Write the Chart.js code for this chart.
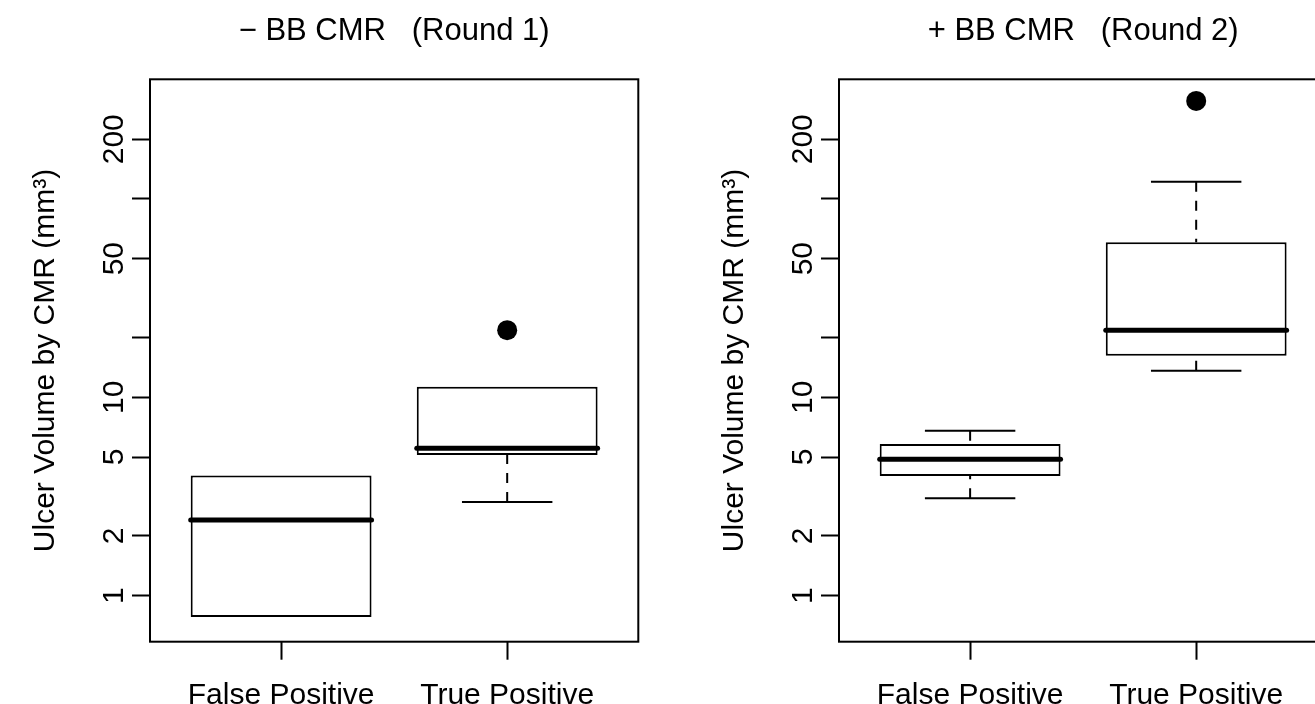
<!DOCTYPE html>
<html>
<head>
<meta charset="utf-8">
<script src="https://cdn.jsdelivr.net/npm/chart.js@4.4.1/dist/chart.umd.min.js"></script>
<style>
  html, body { margin: 0; padding: 0; background: #fff; overflow: hidden; width: 1315px; height: 704px; }
  .panel { position: absolute; top: 0; width: 657px; height: 704px; }
  #panelLeft { left: 0; }
  #panelRight { left: 689px; }
</style>
</head>
<body>
<div class="panel" id="panelLeft"><canvas id="round1" width="657" height="704"></canvas></div>
<div class="panel" id="panelRight"><canvas id="round2" width="657" height="704"></canvas></div>
<script>
const categories = ['False Positive', 'True Positive'];
const yTicks = [1, 2, 5, 10, 20, 50, 100, 200];
const yTickLabels = [1, 2, 5, 10, 50, 200];

// Round 1 (- BB CMR), five-number summaries per category
const round1Low = [0.78, 2.97];
const round1Q1 = [0.78, 5.12];
const round1Median = [2.41, 5.53];
const round1Q3 = [4.04, 11.3];
const round1High = [4.04, 11.3];
const round1OutlierGroup = [2];
const round1OutlierValue = [21.8];

// Round 2 (+ BB CMR)
const round2Low = [3.10, 13.6];
const round2Q1 = [4.01, 16.2];
const round2Median = [4.87, 21.8];
const round2Q3 = [5.82, 60.4];
const round2High = [6.79, 122];
const round2OutlierGroup = [2];
const round2OutlierValue = [312];

const FONT = { family: "'Liberation Sans', Arial, Helvetica, sans-serif", size: 30, weight: 'normal' };
const TITLE_FONT = { ...FONT, size: 31 };
const BOX_HALF = 0.4;   // R boxwex 0.8
const CAP_HALF = 0.2;   // R staplewex 0.5

// whiskers, caps and medians (R bxp style)
const whiskerPlugin = {
  id: 'whiskers',
  afterDatasetsDraw(chart) {
    const { ctx, scales: { x, y } } = chart;
    chart.data.datasets.forEach(ds => {
      if (!ds.median) return;
      ds.median.forEach((m, i) => {
        const cx = x.getPixelForValue(i + 1);
        const boxHalf = x.getPixelForValue(i + 1 + BOX_HALF) - cx;
        const capHalf = x.getPixelForValue(i + 1 + CAP_HALF) - cx;
        const yLow = y.getPixelForValue(ds.whiskerLow[i]);
        const yHigh = y.getPixelForValue(ds.whiskerHigh[i]);
        const yQ1 = y.getPixelForValue(ds.q1[i]);
        const yQ3 = y.getPixelForValue(ds.q3[i]);
        const yMed = y.getPixelForValue(m);

        ctx.save();
        ctx.strokeStyle = '#000';
        ctx.lineWidth = 2;
        ctx.setLineDash([10, 9]);
        ctx.beginPath();
        ctx.moveTo(cx, yLow); ctx.lineTo(cx, yQ1);
        ctx.moveTo(cx, yHigh); ctx.lineTo(cx, yQ3);
        ctx.stroke();
        ctx.setLineDash([]);
        ctx.beginPath();
        // a cap sitting on the hinge is hidden by the box edge
        if (ds.whiskerLow[i] < ds.q1[i]) { ctx.moveTo(cx - capHalf, yLow); ctx.lineTo(cx + capHalf, yLow); }
        if (ds.whiskerHigh[i] > ds.q3[i]) { ctx.moveTo(cx - capHalf, yHigh); ctx.lineTo(cx + capHalf, yHigh); }
        ctx.stroke();
        ctx.lineWidth = 5;
        ctx.lineCap = 'round';
        ctx.beginPath();
        ctx.moveTo(cx - boxHalf, yMed); ctx.lineTo(cx + boxHalf, yMed);
        ctx.stroke();
        ctx.restore();
      });
    });
  }
};

const framePlugin = {
  id: 'frame',
  afterDraw(chart) {
    const { ctx, chartArea: a } = chart;
    ctx.save();
    ctx.strokeStyle = '#000';
    ctx.lineWidth = 2;
    ctx.strokeRect(a.left, a.top, a.right - a.left, a.bottom - a.top);
    ctx.restore();
  }
};

function createBoxplotPanel(config) {
  const { canvasId, title, low, q1, median, q3, high, outlierGroup, outlierValue } = config;
  const ctx = document.getElementById(canvasId);
  if (!ctx) return null;

  return new Chart(ctx, {
    type: 'bar',
    data: {
      datasets: [
        {
          type: 'bar',
          data: categories.map((c, i) => ({ x: i + 1, y: [q1[i], q3[i]] })),
          backgroundColor: '#fff',
          borderColor: '#000',
          borderWidth: 2,
          borderSkipped: false,
          barPercentage: BOX_HALF * 2,
          categoryPercentage: 1,
          whiskerLow: low,
          whiskerHigh: high,
          q1: q1,
          q3: q3,
          median: median
        },
        {
          type: 'scatter',
          data: outlierGroup.map((g, i) => ({ x: g, y: outlierValue[i] })),
          pointRadius: 10,
          pointHoverRadius: 10,
          backgroundColor: '#000',
          borderWidth: 0
        }
      ]
    },
    options: {
      responsive: false,
      animation: false,
      devicePixelRatio: 1,
      layout: { padding: { left: 0, top: 0, right: 18.7, bottom: 0 } },
      plugins: {
        legend: { display: false },
        tooltip: { enabled: false },
        title: { display: false }
      },
      scales: {
        x: {
          type: 'linear',
          min: 0.42,
          max: 2.58,
          offset: false,
          afterBuildTicks: s => { s.ticks = categories.map((c, i) => ({ value: i + 1 })); },
          afterFit: s => { s.height = 62.3; },
          border: { display: false },
          grid: { offset: false, drawOnChartArea: false, tickLength: 18, tickWidth: 2, tickColor: '#000' },
          ticks: { callback: v => categories[v - 1], autoSkip: false, maxRotation: 0, padding: 18, font: FONT, color: '#000' }
        },
        xTop: {
          type: 'linear',
          position: 'top',
          afterFit: s => { s.height = 79.3; },
          border: { display: false },
          grid: { display: false, drawTicks: false },
          ticks: { display: false },
          title: { display: true, text: title, font: TITLE_FONT, color: '#000', padding: { top: 13, bottom: 0 } }
        },
        y: {
          type: 'logarithmic',
          min: 0.586,
          max: 401,
          beginAtZero: false,
          afterBuildTicks: s => { s.ticks = yTicks.map(v => ({ value: v })); },
          afterFit: s => { s.width = 150; },
          border: { display: false },
          grid: { drawOnChartArea: false, tickLength: 18, tickWidth: 2, tickColor: '#000' },
          ticks: {
            callback: v => yTickLabels.includes(v) ? String(v) : '',
            autoSkip: false,
            minRotation: 90,
            maxRotation: 90,
            crossAlign: 'center',
            padding: -8,
            font: FONT,
            color: '#000'
          },
          title: { display: true, text: 'Ulcer Volume by CMR (mm³)', font: FONT, color: '#000', padding: { top: 28, bottom: 0 } }
        }
      }
    },
    plugins: [whiskerPlugin, framePlugin]
  });
}

createBoxplotPanel({
  canvasId: 'round1',
  title: '\u2212 BB CMR   (Round 1)',
  low: round1Low, q1: round1Q1, median: round1Median, q3: round1Q3, high: round1High,
  outlierGroup: round1OutlierGroup, outlierValue: round1OutlierValue
});

createBoxplotPanel({
  canvasId: 'round2',
  title: '+ BB CMR   (Round 2)',
  low: round2Low, q1: round2Q1, median: round2Median, q3: round2Q3, high: round2High,
  outlierGroup: round2OutlierGroup, outlierValue: round2OutlierValue
});
</script>
</body>
</html>
